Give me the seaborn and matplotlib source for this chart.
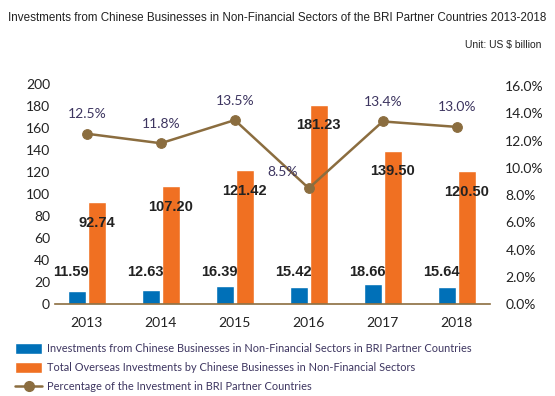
import numpy as np
import pandas as pd
import matplotlib
matplotlib.use("Agg")
import matplotlib.pyplot as plt
import seaborn as sns
from matplotlib.patches import Patch
from matplotlib.lines import Line2D

# datos
years = ["2013", "2014", "2015", "2016", "2017", "2018"]
bri_invest = [11.59, 12.63, 16.39, 15.42, 18.66, 15.64]
total_invest = [92.74, 107.20, 121.42, 181.23, 139.50, 120.50]
pct_bri = [12.5, 11.8, 13.5, 8.5, 13.4, 13.0]

s_bri = "Investments from Chinese Businesses in Non-Financial Sectors in BRI Partner Countries"
s_total = "Total Overseas Investments by Chinese Businesses in Non-Financial Sectors"
s_pct = "Percentage of the Investment in BRI Partner Countries"
titulo = "Investments from Chinese Businesses in Non-Financial Sectors of the BRI Partner Countries 2013-2018"

BLUE = "#0070b8"
ORANGE = "#f07022"
BROWN = "#8b6d3f"
TXT = "#222222"
PURP = "#3d3560"

sns.set_style("white")
plt.rcParams["font.family"] = ["Lato", "DejaVu Sans"]
NARROW = ["Liberation Sans Narrow", "Liberation Sans", "DejaVu Sans"]

df = pd.DataFrame({
    "year": years * 2,
    "value": bri_invest + total_invest,
    "serie": [s_bri] * len(years) + [s_total] * len(years),
})

fig = plt.figure(figsize=(5.55, 3.96), dpi=100)
ax = fig.add_axes([0.099, 0.232, 0.784, 0.556])

sns.barplot(data=df, x="year", y="value", hue="serie", palette=[BLUE, ORANGE],
            width=0.54, gap=0.11, saturation=1, ax=ax, legend=False)

ax.set_ylim(0, 200)
ax.set_yticks(range(0, 201, 20))
ax.set_xlabel("")
ax.set_ylabel("")
ax.tick_params(axis="both", length=0, labelsize=10, colors=TXT)
ax.tick_params(axis="x", pad=9)
for sp in ["top", "left", "right"]:
    ax.spines[sp].set_visible(False)
ax.spines["bottom"].set_color(BROWN)
ax.spines["bottom"].set_linewidth(1.2)

# etiquetas de barras
for i, v in enumerate(bri_invest):
    ax.annotate(f"{v:.2f}", xy=(i - 0.135, 29), xytext=(-4, 0), textcoords="offset points",
                ha="center", va="center", fontsize=10.5, fontweight="bold",
                color=TXT, family=NARROW)
for i, v in enumerate(total_invest):
    ax.annotate(f"{v:.2f}", xy=(i + 0.135, v), xytext=(0, -15), textcoords="offset points",
                ha="center", va="center", fontsize=10.5, fontweight="bold",
                color=TXT, family=NARROW)

ax2 = ax.twinx()
sns.lineplot(x=np.arange(len(years)), y=pct_bri, ax=ax2, color=BROWN, linewidth=1.8,
             marker="o", markersize=7, markeredgecolor=BROWN, markerfacecolor=BROWN)
ax2.set_ylim(0, 16.15)
ax2.set_yticks(np.arange(0, 16.1, 2))
ax2.set_yticklabels([f"{t:.1f}%" for t in np.arange(0, 16.1, 2)])
ax2.tick_params(axis="y", length=0, labelsize=10, colors=TXT, pad=11)
for sp in ["top", "left", "right", "bottom"]:
    ax2.spines[sp].set_visible(False)

for i, p in enumerate(pct_bri):
    off = (-19, 11.5) if p < 10 else (0, 14)
    ax2.annotate(f"{p:.1f}%", xy=(i, p), xytext=off, textcoords="offset points",
                 ha="center", va="center", fontsize=10, color=PURP)

ax.set_xlim(-0.43, 5.45)

# titulo: ajustar el tamaño para que quepa en ~534 px
t = fig.text(0.5, 0.955, titulo, ha="center", va="center", fontsize=11, color=TXT,
             family=NARROW, fontstretch="condensed")
fig.canvas.draw()
w = t.get_window_extent().width
if w > 534:
    t.set_fontsize(11 * 534 / w)

fig.text(0.975, 0.886, "Unit: US $ billion", ha="right", va="center",
         fontsize=7.5, color=TXT, family=["Liberation Sans", "DejaVu Sans"])

handles = [Patch(facecolor=BLUE, label=s_bri),
           Patch(facecolor=ORANGE, label=s_total),
           Line2D([0], [0], color=BROWN, marker="o", markersize=7, linewidth=1.8, label=s_pct)]
fig.legend(handles=handles, loc="upper left", bbox_to_anchor=(0.02, 0.145), frameon=False,
           fontsize=7.9, handlelength=2.4, handleheight=1.1, labelspacing=0.75,
           handletextpad=0.5, borderaxespad=0, labelcolor=PURP)

fig.savefig("out.png", dpi=100)
